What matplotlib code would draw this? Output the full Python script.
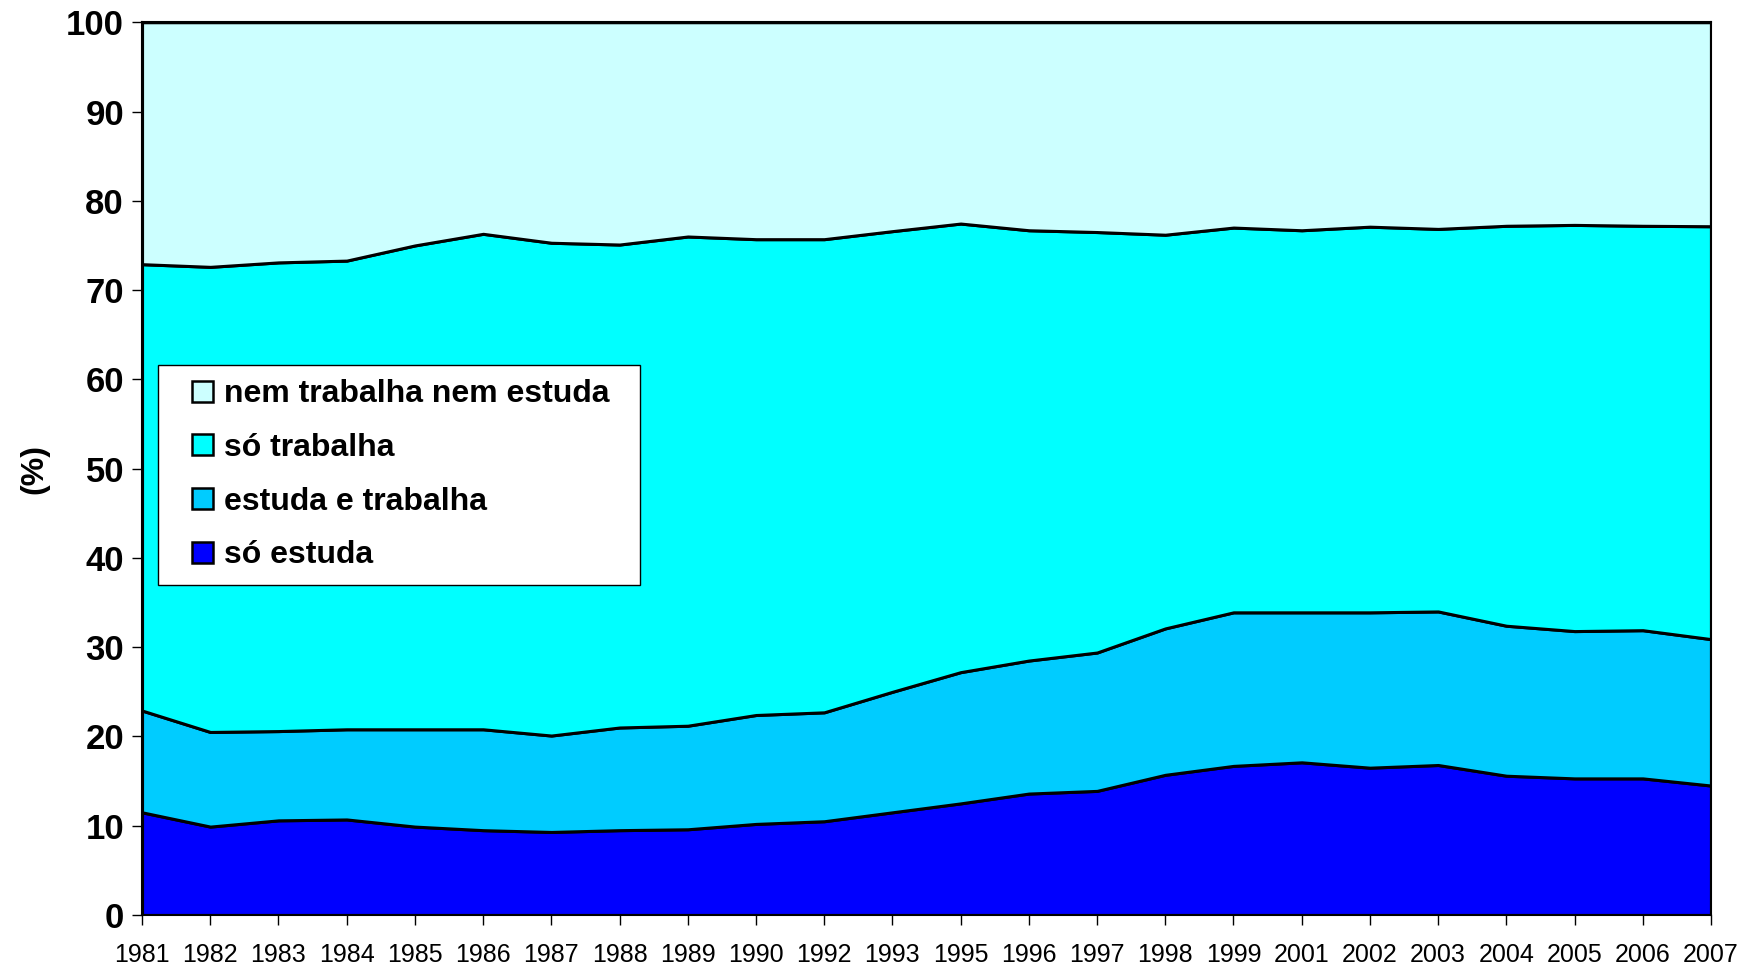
import numpy as np
import matplotlib
matplotlib.use("Agg")
import matplotlib.pyplot as plt
from matplotlib.patches import Rectangle
from matplotlib.legend_handler import HandlerPatch

plt.rcParams['font.family'] = ['Liberation Sans', 'DejaVu Sans']

anos = ['1981', '1982', '1983', '1984', '1985', '1986', '1987', '1988', '1989', '1990',
        '1992', '1993', '1995', '1996', '1997', '1998', '1999', '2001', '2002', '2003',
        '2004', '2005', '2006', '2007']

# valores acumulados
so_estuda = [11.5, 9.9, 10.6, 10.7, 9.9, 9.5, 9.3, 9.5, 9.6, 10.2,
             10.5, 11.5, 12.5, 13.6, 13.9, 15.7, 16.7, 17.1, 16.5, 16.8,
             15.6, 15.3, 15.3, 14.5]
ate_estuda_trabalha = [22.9, 20.5, 20.6, 20.8, 20.8, 20.8, 20.1, 21.0, 21.2, 22.4,
                       22.7, 25.0, 27.2, 28.5, 29.4, 32.1, 33.9, 33.9, 33.9, 34.0,
                       32.4, 31.8, 31.9, 30.9]
ate_so_trabalha = [72.9, 72.6, 73.1, 73.3, 75.0, 76.3, 75.3, 75.1, 76.0, 75.7,
                   75.7, 76.6, 77.45, 76.7, 76.5, 76.2, 77.0, 76.7, 77.1, 76.85,
                   77.2, 77.3, 77.2, 77.15]

estuda_e_trabalha = np.array(ate_estuda_trabalha) - np.array(so_estuda)
so_trabalha = np.array(ate_so_trabalha) - np.array(ate_estuda_trabalha)
nem = 100 - np.array(ate_so_trabalha)

nomes = ['só estuda', 'estuda e trabalha', 'só trabalha', 'nem trabalha nem estuda']
cores = ['#0000FF', '#00CCFF', '#00FFFF', '#CCFFFF']

fig = plt.figure(figsize=(17.45, 9.67), dpi=100)
ax = fig.add_axes([0.0814, 0.0538, 0.8991, 0.9232])

x = np.arange(len(anos))
ax.stackplot(x, so_estuda, estuda_e_trabalha, so_trabalha, nem,
             colors=cores, edgecolor='black', linewidth=2.2)

ax.set_xlim(0, len(anos) - 1)
ax.set_ylim(0, 100)
ax.set_yticks(range(0, 101, 10))
ax.set_xticks(x)
ax.set_xticklabels(anos, fontsize=18)
for lbl in ax.get_yticklabels():
    lbl.set_fontsize(25)
    lbl.set_fontweight('bold')
ax.tick_params(axis='both', direction='out', length=7, width=1, color='black')
ax.tick_params(axis='x', pad=13)
ax.tick_params(axis='y', pad=6)
for s in ax.spines.values():
    s.set_linewidth(1.5)

ax.set_ylabel('(%)', fontsize=23, fontweight='bold', labelpad=12)


def quadrado(legend, orig_handle, xdescent, ydescent, width, height, fontsize):
    lado = height
    return Rectangle((width - lado - xdescent, -ydescent), lado, lado)


proxies = [Rectangle((0, 0), 1, 1, facecolor=c, edgecolor='black', linewidth=1.8) for c in cores]
leg = ax.legend(proxies[::-1], nomes[::-1], loc='upper left', mode='expand',
                bbox_to_anchor=(0.0102, 0.3, 0.3072, 0.316),
                borderaxespad=0, fancybox=False, framealpha=1, edgecolor='black',
                prop={'size': 23, 'weight': 'bold'}, handlelength=1.28, handleheight=0.63,
                handletextpad=0.35, labelspacing=0.74, borderpad=0.45,
                handler_map={Rectangle: HandlerPatch(patch_func=quadrado)})
leg.get_frame().set_linewidth(1)

fig.savefig('out.png', dpi=100)
